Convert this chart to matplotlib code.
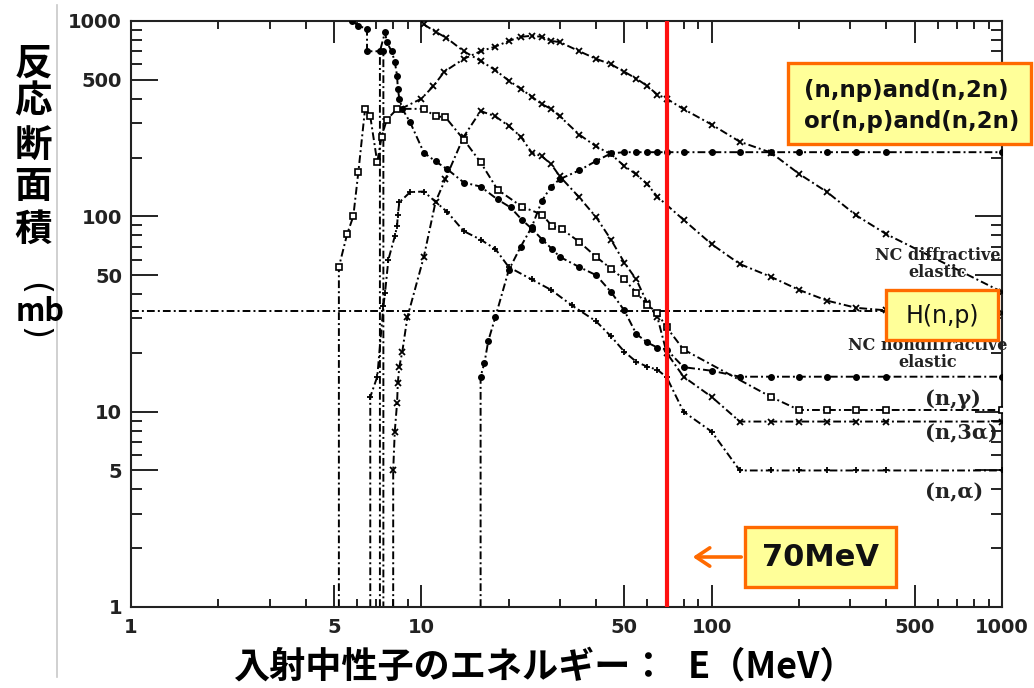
import matplotlib
matplotlib.use("Agg")
import matplotlib.pyplot as plt
from matplotlib.patches import Rectangle, FancyArrowPatch
from matplotlib.lines import Line2D
from matplotlib.ticker import NullFormatter

# neutron energy (MeV) / cross section (mb) for each curve
e_decl = [10.2, 11.2, 12.2, 14, 16, 18, 20, 22, 24, 26, 28, 30, 35, 40, 45, 50, 55, 60, 65,
          80, 100, 125, 160, 200, 250, 315, 400, 1000]
s_decl = [960, 880, 820, 700, 625, 560, 495, 450, 410, 375, 355, 325, 262, 228, 208, 181, 164, 146, 126,
          96, 72, 57, 49, 42, 37, 34, 33, 32]

e_peak = [8.5, 10, 11, 12, 14, 16, 18, 20, 22, 24, 26, 28, 30, 35, 40, 45, 50, 55, 60, 65, 70,
          80, 100, 125, 160, 200, 250, 315, 400, 1000]
s_peak = [355, 400, 464, 550, 640, 700, 740, 790, 830, 840, 830, 790, 780, 700, 640, 600, 550, 507, 465, 420, 400,
          354, 295, 241, 212, 165, 133, 101, 81, 41]

e_np2n = [16, 16, 16.5, 17, 18, 20, 22, 24, 26, 28, 30, 35, 40, 45, 50, 55, 60, 65, 70,
          80, 100, 125, 160, 200, 250, 315, 400, 1000]
s_np2n = [1, 15.1, 17.8, 23, 30.6, 53, 70, 88, 120, 142, 155, 172, 192, 210, 213, 213, 213, 213, 213,
          213, 213, 213, 213, 213, 213, 213, 213, 213]

e_3a = [8.0, 8.0, 8.1, 8.25, 8.3, 8.4, 8.6, 8.95, 10.2, 11.2, 12.1, 14, 16, 18, 20, 22, 24, 26, 28, 30,
        35, 40, 45, 50, 55, 60, 65, 70, 80, 100, 125, 160, 200, 250, 315, 400, 1000]
s_3a = [1, 5.0, 7.9, 11.1, 14.1, 17.0, 20.3, 30.4, 62, 119, 155, 256, 346, 325, 290, 256, 212, 203, 185, 160,
        125, 99, 76, 58, 47.5, 36, 30.5, 20, 15.1, 11.9, 8.9, 8.9, 8.9, 8.9, 8.9, 8.9, 8.9]

e_alpha = [6.67, 6.67, 7.05, 7.4, 7.5, 7.7, 8.1, 8.25, 8.3, 8.4, 9.15, 10.2, 12.3, 14, 16, 18, 20, 24, 28, 33,
           40, 45, 50, 55, 60, 65, 70, 80, 100, 125, 160, 200, 250, 315, 400, 1000]
s_alpha = [1, 11.9, 15.1, 34.6, 40.7, 60, 79, 89, 102, 118, 133, 134, 105, 84, 76, 68, 55, 47.5, 42, 35,
           29, 24.3, 20.3, 18, 17, 16.4, 15, 10, 7.9, 5.0, 5.0, 5.0, 5.0, 5.0, 5.0, 5.0]

e_nondiff = [7.2, 7.2, 7.5, 7.6, 7.9, 8.1, 8.25, 8.3, 8.4, 8.6, 9.15, 10.2, 11.2, 12.3, 14, 16, 18.3, 20.3, 22.2, 24.1,
             26.1, 28.2, 30, 35, 40, 45, 50, 55, 60, 65, 70, 80, 100, 125, 160, 200, 250, 315, 400, 1000]
s_nondiff = [1, 700, 877, 780, 700, 620, 525, 450, 400, 355, 303, 212, 191, 174, 149, 142, 122, 111, 96, 86,
             76, 68, 62, 55, 50, 41, 33, 25, 22.6, 21.3, 20.8, 16.9, 16.2, 15.1, 15.1, 15.1, 15.1, 15.1, 15.1, 15.1]

e_gamma = [5.2, 5.2, 5.55, 5.83, 6.07, 6.4, 6.67, 7.05, 7.3, 7.6, 8.25, 10.2, 11.2, 12.1, 14, 16, 18.3, 22.2, 26.1, 28.2,
           30.5, 35, 40, 45, 50, 55, 60, 65, 70, 80, 160, 200, 250, 315, 400, 1000]
s_gamma = [1, 55, 81, 100, 169, 355, 325, 189, 256, 312, 355, 355, 325, 322, 247, 189, 137, 112, 102, 89,
           86, 74, 62, 54, 47.5, 40.7, 35.3, 32, 27, 20.8, 11.9, 10.2, 10.2, 10.2, 10.2, 10.2]

e_low = [5.78, 6.06, 6.5, 6.5, 7.4, 7.4]
s_low = [1000, 946, 911, 700, 700, 1]

e_hnp = [1, 1000]
s_hnp = [32.6, 32.6]

e_mark = 70

major = [1, 5, 10, 50, 100, 500, 1000]
minor = [2, 3, 4, 6, 7, 8, 9, 20, 30, 40, 60, 70, 80, 90, 200, 300, 400, 600, 700, 800, 900]

W, H = 1034, 688
def fx(x):
    return x / W
def fy(y):
    return 1 - y / H

cjk = ["Noto Sans CJK JP", "DejaVu Sans"]
dash = (0, (4, 1.6, 1, 1.6))

fig = plt.figure(figsize=(W / 100, H / 100), dpi=100)
ax = fig.add_axes([fx(131), fy(607), (1002 - 131) / W, (607 - 21) / H])
ax.set_xscale("log")
ax.set_yscale("log")
ax.set_xlim(1, 1000)
ax.set_ylim(1, 1000)


def curve(e, s, marker, **kw):
    ax.plot(e, s, color="black", lw=1.4, ls=dash, zorder=2)
    pe = [a for a, b in zip(e, s) if b > 1]
    ps = [b for b in s if b > 1]
    ax.plot(pe, ps, ls="none", marker=marker, color="black", zorder=3, **kw)


curve(e_decl, s_decl, "x", ms=4.5, mew=1.3)
curve(e_peak, s_peak, "x", ms=4.5, mew=1.3)
curve(e_np2n, s_np2n, "o", ms=4)
curve(e_3a, s_3a, "x", ms=4.5, mew=1.3)
curve(e_alpha, s_alpha, "+", ms=5, mew=1.3)
curve(e_nondiff, s_nondiff, "o", ms=4)
curve(e_gamma, s_gamma, "s", ms=4, mfc="white", mec="black", mew=1.2)
curve(e_low, s_low, "o", ms=4)
ax.plot(e_hnp, s_hnp, color="black", lw=1.4, ls=dash, zorder=2)

ax.axvline(e_mark, color="#ff1010", lw=3, zorder=4)

# axes frame and ticks on all four sides
for sp in ax.spines.values():
    sp.set_linewidth(1.5)
    sp.set_color("#222222")
ax.set_xticks(major)
ax.set_xticklabels([str(v) for v in major])
ax.set_yticks(major)
ax.set_yticklabels([str(v) for v in major])
ax.set_xticks(minor, minor=True)
ax.set_yticks(minor, minor=True)
ax.xaxis.set_minor_formatter(NullFormatter())
ax.yaxis.set_minor_formatter(NullFormatter())
ax.tick_params(which="both", direction="in", top=True, right=True, color="#222222", width=1.4)
ax.tick_params(axis="x", which="major", length=16, pad=8)
ax.tick_params(axis="x", which="minor", length=6)
ax.tick_params(axis="y", which="major", length=19.5, pad=6.5)
ax.tick_params(axis="y", which="minor", length=8)
for lab in ax.get_xticklabels() + ax.get_yticklabels():
    lab.set_fontfamily("DejaVu Sans")
    lab.set_fontweight("bold")
    lab.set_fontsize(14)
    lab.set_color("#222222")

# curve labels
ax_txt = dict(family="DejaVu Serif", weight="bold", color="#222222", ha="center", va="center")
fig.text(fx(938), fy(264), "NC diffractive\nelastic", fontsize=11.5, linespacing=1.0, **ax_txt)
fig.text(fx(928), fy(354), "NC nondiffractive\nelastic", fontsize=11.5, linespacing=1.0, **ax_txt)
fig.text(fx(953), fy(399), "(n,γ)", fontsize=15, **ax_txt)
fig.text(fx(961), fy(433), "(n,3α)", fontsize=15, **ax_txt)
fig.text(fx(954), fy(492), "(n,α)", fontsize=15, **ax_txt)


def box(x0, y0, x1, y1):
    fig.add_artist(Rectangle((fx(x0), fy(y1)), (x1 - x0) / W, (y1 - y0) / H,
                             transform=fig.transFigure, fc="#ffff99", ec="#ff6a00", lw=2.4, zorder=5))


box(788, 63, 1031, 144)
fig.text(fx(804), fy(106), "(n,np)and(n,2n)\nor(n,p)and(n,2n)", fontsize=16.5, weight="bold",
         family="DejaVu Sans", ha="left", va="center", linespacing=1.4, color="#111111", zorder=6)

box(886, 290, 998, 340)
fig.text(fx(942), fy(316), "H(n,p)", fontsize=17, family="DejaVu Sans", ha="center", va="center",
         color="#111111", zorder=6)

box(745, 527, 896, 587)
fig.text(fx(820), fy(557), "70MeV", fontsize=22, weight="bold", family="DejaVu Sans", ha="center",
         va="center", color="#111111", zorder=6)
fig.add_artist(FancyArrowPatch((fx(744), fy(557)), (fx(690), fy(557)), transform=fig.transFigure,
                               arrowstyle="->,head_length=0.45,head_width=0.3", mutation_scale=22,
                               color="#ff6a00", lw=2.6, zorder=5))

# y axis title, written vertically
for ch, y in zip("反応断面積", [63, 101, 145, 187, 229]):
    fig.text(fx(33), fy(y), ch, fontsize=27, family=cjk, weight="bold", ha="center", va="center")
fig.text(fx(34), fy(289), "(", fontsize=24, family="DejaVu Sans", rotation=-90, ha="center", va="center")
fig.text(fx(40), fy(312), "mb", fontsize=22, family=cjk, weight="bold", ha="center", va="center")
fig.text(fx(34), fy(333), ")", fontsize=24, family="DejaVu Sans", rotation=-90, ha="center", va="center")

# x axis title
fig.text(fx(233), fy(667), "入射中性子のエネルギー：", fontsize=26, family=cjk, weight="bold",
         ha="left", va="center")
fig.text(fx(688), fy(667), "E（MeV）", fontsize=26, family=cjk, weight="bold", ha="left", va="center")

# thin grey rule on the left
fig.add_artist(Line2D([fx(57), fx(57)], [fy(5), fy(677)], transform=fig.transFigure,
                      color="#c8c8c8", lw=1.2))

fig.savefig("out.png", dpi=100)
